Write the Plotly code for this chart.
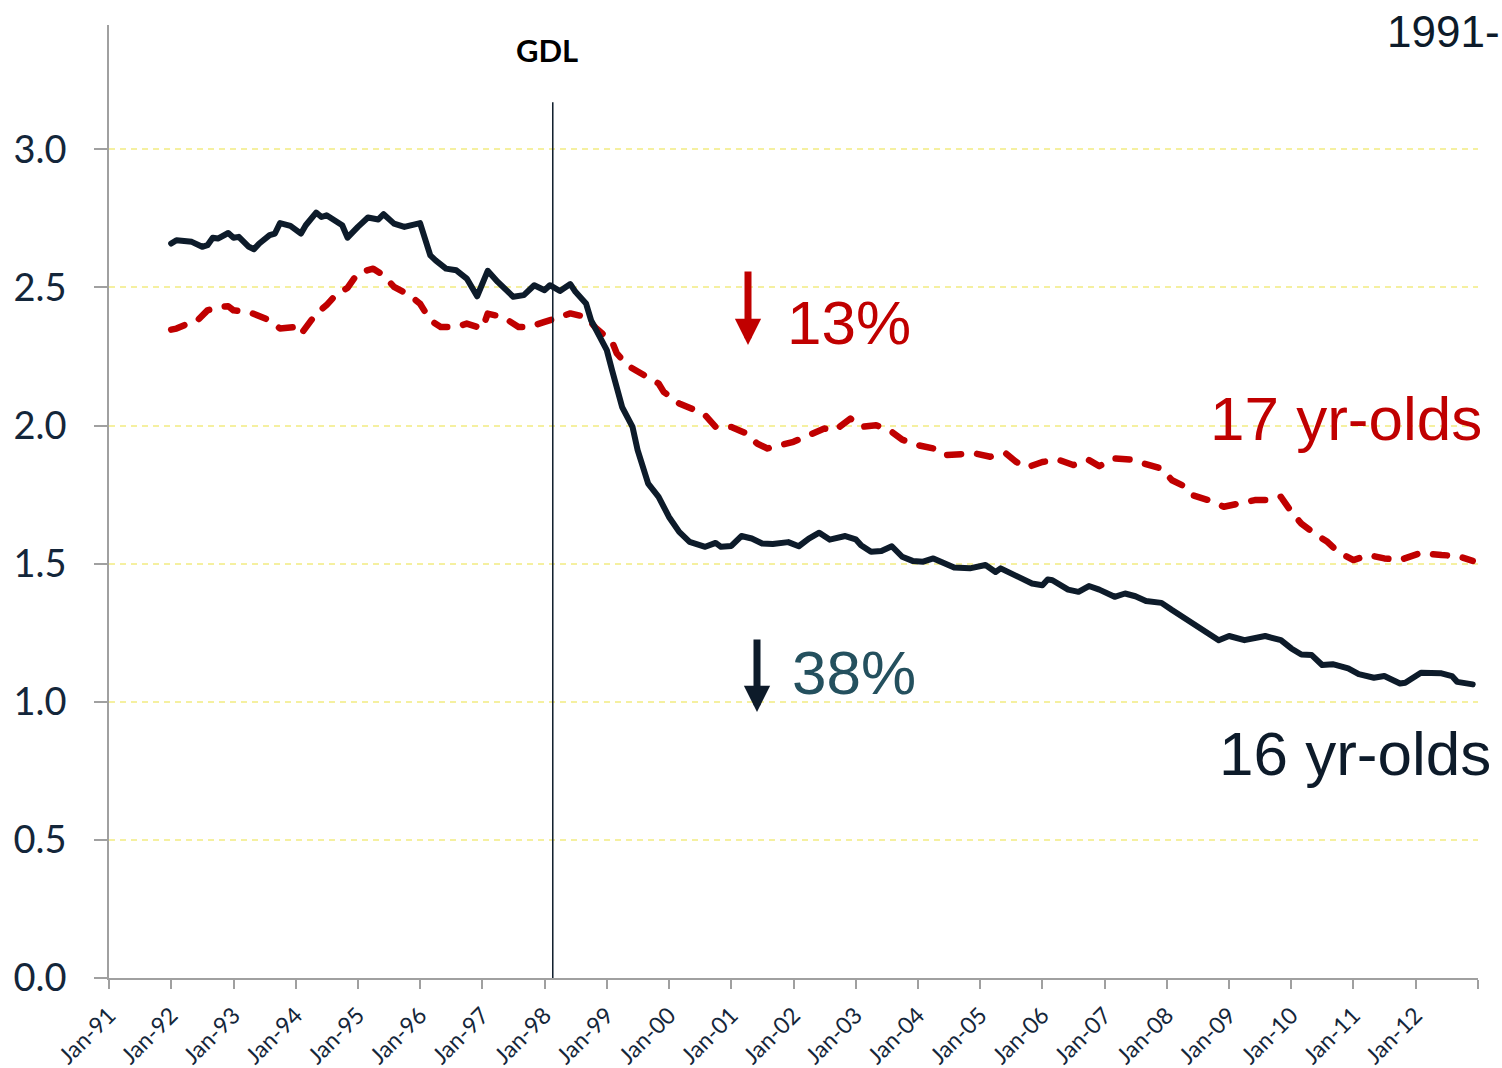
import plotly.graph_objects as go

# ---- data ----
dates_16 = ["1992-01","1992-02","1992-05","1992-07","1992-08","1992-09","1992-10","1992-12",
            "1993-01","1993-02","1993-04","1993-05","1993-06","1993-08","1993-09","1993-10","1993-12",
            "1994-02","1994-03","1994-05","1994-06","1994-07","1994-10","1994-11",
            "1995-01","1995-03","1995-05","1995-06","1995-08","1995-10",
            "1996-01","1996-03","1996-04","1996-06","1996-08","1996-10","1996-12",
            "1997-02","1997-04","1997-07","1997-09","1997-11",
            "1998-01","1998-02","1998-04","1998-06","1998-07","1998-09","1998-10","1998-12",
            "1999-01","1999-02","1999-03","1999-04","1999-06","1999-07","1999-09","1999-11",
            "2000-01","2000-03","2000-05","2000-08","2000-10","2000-11",
            "2001-01","2001-03","2001-05","2001-07","2001-09","2001-12",
            "2002-02","2002-04","2002-06","2002-08","2002-11",
            "2003-01","2003-02","2003-04","2003-06","2003-08","2003-10","2003-12",
            "2004-02","2004-04","2004-08","2004-11",
            "2005-02","2005-04","2005-05","2005-07","2005-09","2005-11",
            "2006-01","2006-02","2006-03","2006-06","2006-08","2006-10","2006-12",
            "2007-03","2007-05","2007-07","2007-09","2007-12",
            "2008-02","2008-05","2008-08","2008-11",
            "2009-01","2009-04","2009-08","2009-11",
            "2010-01","2010-03","2010-05","2010-07","2010-09","2010-12",
            "2011-02","2011-05","2011-07","2011-08","2011-10","2011-11",
            "2012-02","2012-06","2012-08","2012-09","2012-12"]
rate_16 = [2.659,2.671,2.665,2.647,2.653,2.680,2.677,2.697,
           2.680,2.683,2.647,2.638,2.659,2.689,2.695,2.733,2.723,
           2.695,2.725,2.771,2.755,2.761,2.725,2.680,
           2.719,2.753,2.746,2.765,2.731,2.719,
           2.733,2.616,2.598,2.568,2.562,2.532,2.468,
           2.560,2.520,2.466,2.472,2.508,
           2.490,2.508,2.487,2.512,2.484,2.442,2.381,2.309,
           2.273,2.200,2.128,2.067,1.995,1.911,1.790,1.742,
           1.669,1.615,1.579,1.561,1.575,1.561,
           1.564,1.600,1.591,1.573,1.571,1.578,
           1.563,1.591,1.612,1.587,1.600,
           1.588,1.567,1.543,1.546,1.563,1.525,1.510,
           1.507,1.519,1.486,1.483,
           1.495,1.470,1.483,1.465,1.447,1.428,
           1.422,1.443,1.440,1.406,1.398,1.419,1.406,
           1.380,1.392,1.382,1.365,1.358,
           1.332,1.298,1.259,1.223,
           1.238,1.223,1.238,1.223,
           1.193,1.171,1.169,1.133,1.136,1.121,
           1.100,1.087,1.093,1.085,1.066,1.069,
           1.105,1.103,1.093,1.072,1.063]

dates_17 = ["1992-01","1992-02","1992-04","1992-06","1992-08","1992-10","1992-12",
            "1993-01","1993-04","1993-06","1993-08","1993-10",
            "1994-01","1994-02","1994-03","1994-05","1994-07","1994-09","1994-11",
            "1995-01","1995-04","1995-06","1995-08","1995-11",
            "1996-01","1996-03","1996-05","1996-08","1996-10",
            "1997-01","1997-02","1997-05","1997-08","1997-10",
            "1998-01","1998-04","1998-06","1998-09","1998-11",
            "1999-02","1999-03","1999-05","1999-08","1999-11","1999-12",
            "2000-03","2000-06","2000-08","2000-10",
            "2001-01","2001-04","2001-06","2001-08","2001-12",
            "2002-01","2002-04","2002-07","2002-09","2002-12",
            "2003-02","2003-05","2003-08","2003-10",
            "2004-01","2004-04","2004-06","2004-09","2004-12",
            "2005-03","2005-06","2005-08","2005-10",
            "2006-01","2006-04","2006-07","2006-10","2006-12",
            "2007-03","2007-06","2007-08","2007-12",
            "2008-02","2008-04","2008-06","2008-09","2008-12",
            "2009-03","2009-06","2009-09","2009-11",
            "2010-01","2010-03","2010-06","2010-08","2010-10",
            "2011-01","2011-04","2011-07","2011-10",
            "2012-01","2012-02","2012-06","2012-09","2012-12"]
rate_17 = [2.347,2.351,2.367,2.379,2.417,2.429,2.432,
           2.417,2.411,2.393,2.381,2.351,
           2.357,2.331,2.357,2.405,2.436,2.478,2.498,
           2.552,2.568,2.544,2.502,2.472,
           2.441,2.381,2.357,2.357,2.369,
           2.351,2.405,2.393,2.357,2.357,
           2.375,2.393,2.406,2.393,2.351,
           2.303,2.261,2.218,2.182,2.152,2.122,
           2.080,2.056,2.037,1.995,
           1.995,1.971,1.935,1.917,1.935,
           1.941,1.965,1.989,1.983,2.025,
           1.995,2.001,1.977,1.949,
           1.929,1.917,1.893,1.899,1.899,
           1.887,1.899,1.868,1.848,
           1.868,1.877,1.857,1.875,1.853,
           1.881,1.877,1.868,1.844,
           1.802,1.784,1.748,1.730,1.706,
           1.720,1.730,1.730,1.742,
           1.688,1.645,1.603,1.579,1.543,
           1.513,1.531,1.519,1.513,
           1.531,1.539,1.531,1.528,1.510]

tick_dates = ["%d-01-01" % y for y in range(1991, 2014)]
tick_labels = ["Jan-91","Jan-92","Jan-93","Jan-94","Jan-95","Jan-96","Jan-97","Jan-98",
               "Jan-99","Jan-00","Jan-01","Jan-02","Jan-03","Jan-04","Jan-05","Jan-06",
               "Jan-07","Jan-08","Jan-09","Jan-10","Jan-11","Jan-12",""]
y_ticks = [0.0, 0.5, 1.0, 1.5, 2.0, 2.5, 3.0]
gdl_date = "1998-02-18"

NAVY = "#0d1b2a"
RED = "#c00000"
TICK_COL = "#14263a"

fig = go.Figure()
fig.add_trace(go.Scatter(x=dates_17, y=rate_17, mode="lines",
                         line=dict(color=RED, width=6.5, dash="14px,16px"),
                         showlegend=False, hoverinfo="skip"))
fig.add_trace(go.Scatter(x=dates_16, y=rate_16, mode="lines",
                         line=dict(color=NAVY, width=6),
                         showlegend=False, hoverinfo="skip"))

fig.add_shape(type="line", xref="x", yref="y", x0=gdl_date, x1=gdl_date, y0=0, y1=3.17,
              line=dict(color=NAVY, width=1.5), layer="above")

ann = []
ann.append(dict(text="<b>GDL</b>", xref="paper", yref="paper", x=(547-109)/1369, y=(978-50)/953,
                xanchor="center", yanchor="middle",
                showarrow=False, font=dict(family="Lato", size=31, color="#000000")))
ann.append(dict(text="1991-", xref="paper", yref="paper", x=0.932, y=0.9927, xanchor="left",
                yanchor="middle", showarrow=False,
                font=dict(family="Liberation Sans", size=44, color=NAVY)))
ann.append(dict(text="13%", xref="paper", yref="paper", x=0.4938, y=0.688, xanchor="left",
                yanchor="middle", showarrow=False,
                font=dict(family="Liberation Sans", size=62, color=RED)))
ann.append(dict(text="38%", xref="paper", yref="paper", x=0.4975, y=0.321, xanchor="left",
                yanchor="middle", showarrow=False,
                font=dict(family="Liberation Sans", size=62, color="#24505e")))
ann.append(dict(text="17 yr-olds", xref="paper", yref="paper", x=1.0044, y=0.5876, xanchor="right",
                yanchor="middle", showarrow=False,
                font=dict(family="Liberation Sans", size=62, color=RED)))
ann.append(dict(text="16 yr-olds", xref="paper", yref="paper", x=1.011, y=0.236, xanchor="right",
                yanchor="middle", showarrow=False,
                font=dict(family="Liberation Sans", size=62, color=NAVY)))
# arrows
ann.append(dict(text="", xref="paper", yref="paper", x=(748-109)/1369, y=(978-345)/953,
                ax=0, ay=-75, showarrow=True, arrowhead=2, arrowsize=0.75, arrowwidth=7,
                arrowcolor=RED, standoff=0))
ann.append(dict(text="", xref="paper", yref="paper", x=(757-109)/1369, y=(978-712)/953,
                ax=0, ay=-74, showarrow=True, arrowhead=2, arrowsize=0.75, arrowwidth=7,
                arrowcolor=NAVY, standoff=0))

fig.update_layout(
    width=1502, height=1068,
    margin=dict(l=109, r=24, t=25, b=90),
    paper_bgcolor="white", plot_bgcolor="white",
    annotations=ann,
    xaxis=dict(type="date", range=["1991-01-01", "2013-01-01"],
               tickmode="array", tickvals=tick_dates, ticktext=tick_labels,
               tickangle=-45, ticks="outside", ticklen=9, tickcolor="#a0a0a0", tickwidth=1.5,
               showline=True, linecolor="#a0a0a0", linewidth=1.5,
               showgrid=False, zeroline=False, ticklabelstandoff=4, automargin=False,
               tickfont=dict(family="Lato", size=23, color=TICK_COL)),
    yaxis=dict(range=[0, 3.45], tickmode="array", tickvals=y_ticks,
               ticktext=["%.1f" % v for v in y_ticks],
               ticks="outside", ticklen=13, tickcolor="#a0a0a0", tickwidth=1.5,
               showline=True, linecolor="#a0a0a0", linewidth=1.5,
               showgrid=True, gridcolor="#f5f0a0", gridwidth=1.5, griddash="6px,5px",
               zeroline=False, ticklabelstandoff=20, automargin=False,
               tickfont=dict(family="Lato", size=38, color=TICK_COL)),
)

post = """
document.body.style.margin='0';
document.querySelectorAll('.scatterlayer path.js-line').forEach(function(p){
  p.style.strokeLinecap='round'; p.style.strokeLinejoin='round';
});
"""
fig.write_html("out.html", config={"displayModeBar": False}, post_script=post)
